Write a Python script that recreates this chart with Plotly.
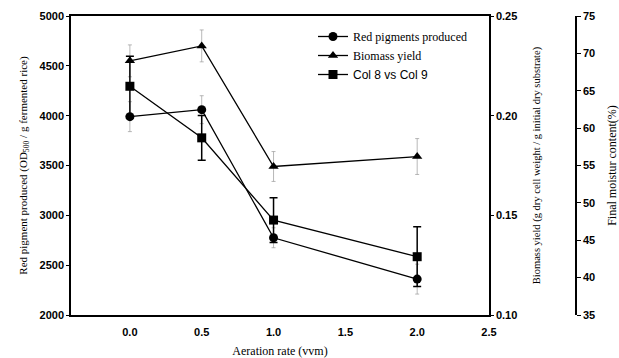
import plotly.graph_objects as go

aeration = [0.0, 0.5, 1.0, 2.0]
red_pigment = [3990, 4060, 2775, 2360]
red_err = [150, 140, 100, 150]
biomass = [0.2275, 0.235, 0.1745, 0.1795]
biomass_err = [0.008, 0.008, 0.0075, 0.009]
moisture = [65.6, 58.7, 47.7, 42.8]
moisture_err = [4, 3, 3, 4]

x_ticks = [0.0, 0.5, 1.0, 1.5, 2.0, 2.5]

serif = "Liberation Serif, Times New Roman, serif"
sans = "Liberation Sans, Arial, sans-serif"
tickfont = dict(family=sans, size=11, color="black", weight="bold")

fig = go.Figure()
fig.add_trace(go.Scatter(
    x=aeration, y=red_pigment, name="Red pigments produced",
    mode="lines+markers", line=dict(color="black", width=1.3),
    marker=dict(symbol="circle", size=9, color="black"),
    error_y=dict(type="data", array=red_err, color="#9a9a9a", thickness=0.7, width=2),
    yaxis="y"))
fig.add_trace(go.Scatter(
    x=aeration, y=biomass, name="Biomass yield",
    mode="lines+markers", line=dict(color="black", width=1.3),
    marker=dict(symbol="triangle-up", size=9, color="black"),
    error_y=dict(type="data", array=biomass_err, color="#9a9a9a", thickness=0.7, width=2),
    yaxis="y2"))
fig.add_trace(go.Scatter(
    x=aeration, y=moisture,
    name='<span style="font-family:Liberation Sans, Arial, sans-serif">Col 8 vs Col 9</span>',
    mode="lines+markers", line=dict(color="black", width=1.3),
    marker=dict(symbol="square", size=9, color="black"),
    error_y=dict(type="data", array=moisture_err, color="black", thickness=1.5, width=4),
    yaxis="y3"))

W, H = 619, 358
ml, mr, mt, mb = 71, 43, 16, 43
pw = W - ml - mr
xdom_end = (489 - ml) / pw

fig.update_layout(
    width=W, height=H,
    margin=dict(l=ml, r=mr, t=mt, b=mb),
    paper_bgcolor="white", plot_bgcolor="white",
    showlegend=True,
    legend=dict(x=(313 - ml) / pw, y=(315 - 22) / 299, xanchor="left", yanchor="top",
                bgcolor="rgba(0,0,0,0)", borderwidth=0,
                font=dict(family=serif, size=12, color="black"),
                tracegroupgap=0, itemwidth=30),
    xaxis=dict(domain=[0, xdom_end], range=[-0.41, 2.5], tickvals=x_ticks,
               tickformat=".1f", showgrid=False, zeroline=False,
               showline=True, linecolor="black", linewidth=1.5, mirror=True,
               ticks="", tickfont=tickfont, ticklabelstandoff=6,
               title=dict(text="Aeration rate (vvm)", font=dict(family=serif, size=12, color="black"),
                          standoff=10),
               automargin=False),
    yaxis=dict(range=[2000, 5000], dtick=500, tick0=2000, showgrid=False, zeroline=False,
               showline=True, linecolor="black", linewidth=1.5,
               ticks="outside", ticklen=3, tickcolor="black", tickfont=tickfont,
               title=dict(text="Red pigment produced (OD<sub>500</sub> / g fermented rice)",
                          font=dict(family=serif, size=11, color="black"), standoff=10),
               automargin=False),
    yaxis2=dict(range=[0.10, 0.25], dtick=0.05, tick0=0.10, tickformat=".2f",
                overlaying="y", side="right", anchor="x",
                showgrid=False, zeroline=False,
                showline=True, linecolor="black", linewidth=1.5,
                ticks="outside", ticklen=3, tickcolor="black", tickfont=tickfont,
                title=dict(text="Biomass yield (g dry cell weight / g initial dry substrate)",
                           font=dict(family=serif, size=10.5, color="black"), standoff=16),
                automargin=False),
    yaxis3=dict(range=[35, 75], dtick=5, tick0=35,
                overlaying="y", side="right", anchor="free", position=1.0,
                showgrid=False, zeroline=False,
                showline=True, linecolor="black", linewidth=1.5,
                ticks="outside", ticklen=4, tickcolor="black", tickfont=tickfont,
                title=dict(text="Final moistur content(%)",
                           font=dict(family=serif, size=12, color="black"), standoff=12),
                automargin=False),
)

fig.write_html("out.html")
